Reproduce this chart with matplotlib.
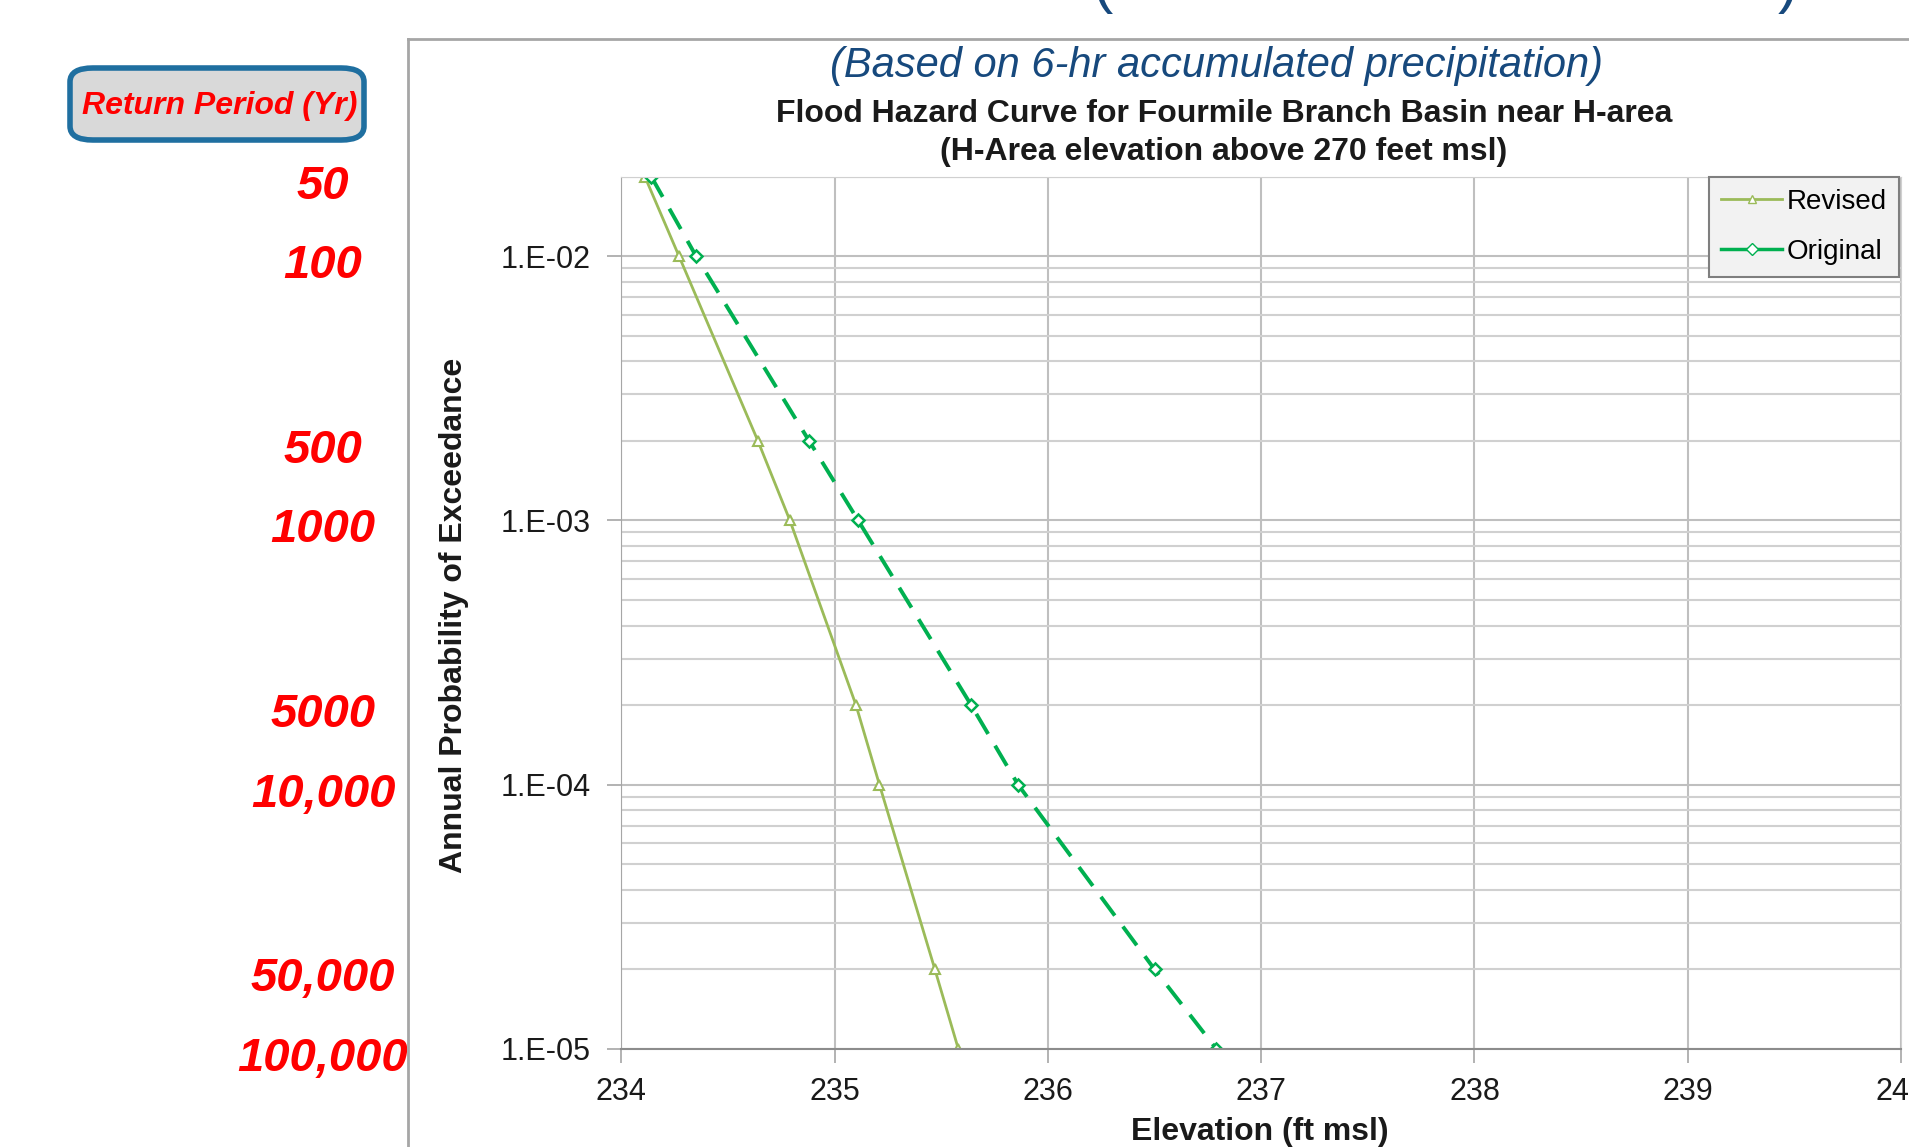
import numpy as np
import matplotlib
matplotlib.use("Agg")
import matplotlib.pyplot as plt
from matplotlib import transforms
from matplotlib.lines import Line2D
from matplotlib.patches import FancyBboxPatch
from matplotlib.ticker import FixedLocator, LogLocator, FuncFormatter, NullFormatter

plt.rcParams['font.family'] = ['Liberation Sans', 'DejaVu Sans']

# data
prob = [2e-2, 1e-2, 2e-3, 1e-3, 2e-4, 1e-4, 2e-5, 1e-5]
return_period = ['50', '100', '500', '1000', '5000', '10,000', '50,000', '100,000']
elev_revised = [234.11, 234.27, 234.64, 234.79, 235.10, 235.21, 235.47, 235.58]
elev_original = [234.14, 234.35, 234.88, 235.11, 235.64, 235.86, 236.50, 236.79]

c_rev = '#9BBB59'
c_orig = '#00B050'
blue = '#17497D'
dark = '#1A1A1A'

fig = plt.figure(figsize=(19.09, 11.47), dpi=100)
ax = fig.add_axes([0.3255, 0.0855, 0.6703, 0.7606])

ax.plot(elev_revised, prob, color=c_rev, lw=2, marker='^', ms=7,
        mfc='white', mec=c_rev, mew=1.5, label='Revised')
ax.plot(elev_original, prob, color=c_orig, lw=2.8, ls=(0, (6, 3.5)), marker='D', ms=6,
        mfc='white', mec=c_orig, mew=1.8, label='Original')

ax.set_yscale('log')
ax.set_xlim(234, 240)
ax.set_ylim(1e-5, 2e-2)
ax.yaxis.set_major_locator(FixedLocator([1e-5, 1e-4, 1e-3, 1e-2]))
ax.yaxis.set_major_formatter(FuncFormatter(lambda v, p: '1.E-%02d' % round(-np.log10(v))))
ax.yaxis.set_minor_locator(LogLocator(base=10, subs=np.arange(2, 10)))
ax.yaxis.set_minor_formatter(NullFormatter())
ax.set_xticks(np.arange(234, 241, 1))

ax.grid(True, which='major', axis='both', color='#BFBFBF', lw=1.5)
ax.grid(True, which='minor', axis='y', color='#D0D0D0', lw=1.5)
ax.set_axisbelow(True)
ax.tick_params(axis='both', which='major', direction='out', length=10, width=1.2,
               color='#A6A6A6', labelsize=22, labelcolor=dark)
ax.tick_params(axis='y', which='major', pad=12)
ax.tick_params(axis='x', which='major', pad=10)
ax.tick_params(axis='y', which='minor', length=0)
for s in ['top', 'right']:
    ax.spines[s].set_color('#D0D0D0')
ax.spines['left'].set_color('#A6A6A6')
ax.spines['bottom'].set_color('#8C8C8C')
ax.spines['bottom'].set_linewidth(1.5)

h_rev = Line2D([], [], color=c_rev, lw=2, marker='^', ms=6, mfc='white', mec=c_rev)
h_orig = Line2D([], [], color=c_orig, lw=2.5, marker='D', ms=6, mfc='white', mec=c_orig)
leg = ax.legend([h_rev, h_orig], ['Revised', 'Original'], loc='upper right',
                bbox_to_anchor=(0.9985, 1.0), borderaxespad=0, fontsize=20,
                handlelength=2.2, handletextpad=0.15, labelspacing=0.85,
                fancybox=False, framealpha=1, borderpad=0.45)
leg.get_frame().set_facecolor('#F2F2F2')
leg.get_frame().set_edgecolor('#7F7F7F')
leg.get_frame().set_linewidth(1.5)

fig.text(454 / 1909, 1 - 615 / 1147, 'Annual Probability of Exceedance', rotation=90,
         ha='center', va='center', fontsize=23, fontweight='bold', color=dark)
fig.text(1260 / 1909, 1 - 1132 / 1147, 'Elevation (ft msl)', ha='center', va='center',
         fontsize=23, fontweight='bold', color=dark)

fig.text(1224 / 1909, 1 - 114 / 1147, 'Flood Hazard Curve for Fourmile Branch Basin near H-area',
         ha='center', va='center', fontsize=23, fontweight='bold', color=dark)
fig.text(1224 / 1909, 1 - 152 / 1147, '(H-Area elevation above 270 feet msl)',
         ha='center', va='center', fontsize=23, fontweight='bold', color=dark)
fig.text(1217 / 1909, 1 - 66 / 1147, '(Based on 6-hr accumulated precipitation)',
         ha='center', va='center', fontsize=30, fontstyle='italic', color=blue)

# tails of the slide title cut off at the top edge
fig.text(1102 / 1909, 0.999, '(', ha='center', va='baseline', fontsize=44, color=blue)
fig.text(1788 / 1909, 0.999, ')', ha='center', va='baseline', fontsize=44, color=blue)

# chart area border
fig.add_artist(Line2D([408 / 1909, 408 / 1909], [0, 1 - 39 / 1147],
                      transform=fig.transFigure, color='#A6A6A6', lw=2))
fig.add_artist(Line2D([408 / 1909, 1], [1 - 39 / 1147, 1 - 39 / 1147],
                      transform=fig.transFigure, color='#A6A6A6', lw=2))

# return period box and labels
box = FancyBboxPatch((70 / 1909, 1 - 140 / 1147), 294 / 1909, 72 / 1147,
                     boxstyle='round,pad=0,rounding_size=0.012', transform=fig.transFigure,
                     facecolor='#D9D9D9', edgecolor='#1F6FA0', lw=4)
fig.add_artist(box)
fig.text(220 / 1909, 1 - 106 / 1147, 'Return Period (Yr)', ha='center', va='center',
         fontsize=23, fontweight='bold', fontstyle='italic', color='red')

trans = transforms.blended_transform_factory(fig.transFigure, ax.transData)
for p, lab in zip(prob, return_period):
    ax.annotate(lab, xy=(323 / 1909, p), xycoords=trans, xytext=(0, -10),
                textcoords='offset pixels', ha='center', va='center', fontsize=34,
                fontweight='bold', fontstyle='italic', color='red', annotation_clip=False)

fig.savefig('out.png', dpi=100)
